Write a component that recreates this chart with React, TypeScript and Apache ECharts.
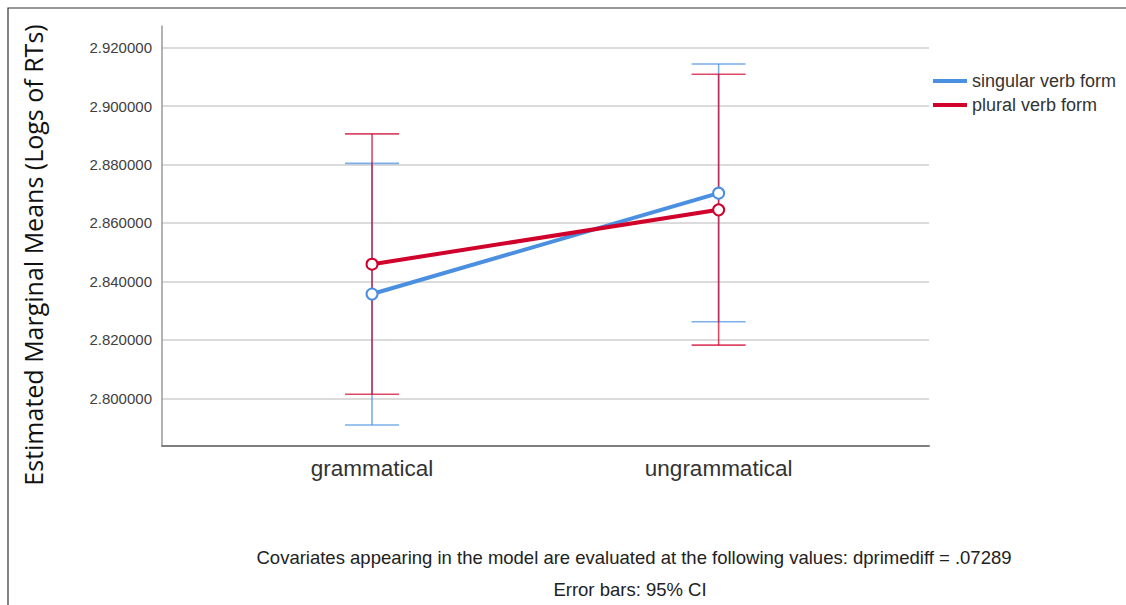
import React, { useEffect, useRef } from "react";
import * as echarts from "echarts";

const categories = ["grammatical", "ungrammatical"];
const seriesNames = ["singular verb form", "plural verb form"];
const singularMeans = [2.8357, 2.8702];
const singularLower = [2.7909, 2.8262];
const singularUpper = [2.8804, 2.9144];
const pluralMeans = [2.8459, 2.8645];
const pluralLower = [2.8014, 2.8182];
const pluralUpper = [2.8905, 2.9109];
const yTicks = [2.8, 2.82, 2.84, 2.86, 2.88, 2.9, 2.92];
const yTitle = "Estimated Marginal Means (Logs of RTs)";
const footer1 = "Covariates appearing in the model are evaluated at the following values: dprimediff = .07289";
const footer2 = "Error bars: 95% CI";

const BLUE = "#4a8fe0";
const RED = "#d0022c";

export default function App() {
  const ref = useRef<HTMLDivElement>(null);
  useEffect(() => {
    if (!ref.current) return;
    const chart = echarts.init(ref.current, null, { renderer: "svg" });
    const xPos = categories.map((_, i) => i + 1);
    const errSeries = (name: string, color: string, lo: number[], hi: number[]) => ({
      name,
      type: "custom",
      z: 2,
      data: xPos.map((x, i) => [x, lo[i], hi[i]]),
      renderItem: (params: any, api: any) => {
        const x = api.value(0);
        const pLo = api.coord([x, api.value(1)]);
        const pHi = api.coord([x, api.value(2)]);
        const hw = 27;
        const style = { stroke: color, lineWidth: 1.6, opacity: 0.72 };
        return {
          type: "group",
          children: [
            { type: "line", shape: { x1: pLo[0], y1: pLo[1], x2: pHi[0], y2: pHi[1] }, style },
            { type: "line", shape: { x1: pLo[0] - hw, y1: pLo[1], x2: pLo[0] + hw, y2: pLo[1] }, style },
            { type: "line", shape: { x1: pHi[0] - hw, y1: pHi[1], x2: pHi[0] + hw, y2: pHi[1] }, style },
          ],
        };
      },
    });
    const meanSeries = (name: string, color: string, means: number[]) => ({
      name,
      type: "line",
      z: 3,
      data: xPos.map((x, i) => [x, means[i]]),
      symbol: "emptyCircle",
      symbolSize: 11,
      lineStyle: { color, width: 4 },
      itemStyle: { color, borderWidth: 1.5 },
    });
    chart.setOption({
      animation: false,
      grid: { left: 162, right: 197, top: 26, bottom: 159 },
      legend: {
        orient: "vertical",
        left: 933,
        top: 72,
        padding: 0,
        itemWidth: 34,
        itemHeight: 4,
        itemGap: 6,
        icon: "rect",
        textStyle: { fontSize: 18, color: "#333", fontFamily: "Liberation Sans", lineHeight: 18 },
        data: [
          { name: seriesNames[0], itemStyle: { color: BLUE, borderWidth: 0 } },
          { name: seriesNames[1], itemStyle: { color: RED, borderWidth: 0 } },
        ],
      },
      xAxis: {
        type: "value",
        min: 0.394,
        max: 2.607,
        axisLine: { show: true, lineStyle: { color: "#7f7f7f", width: 2 } },
        axisTick: { show: false },
        splitLine: { show: false },
        axisLabel: {
          customValues: xPos,
          formatter: (v: number) => categories[Math.round(v) - 1] ?? "",
          fontSize: 22.5,
          color: "#333",
          fontFamily: "Liberation Sans",
          margin: 11,
        },
      },
      yAxis: {
        type: "value",
        min: 2.7837,
        max: 2.9274,
        axisLine: { show: true, lineStyle: { color: "#9a9a9a", width: 1.5 } },
        axisTick: { show: false, customValues: yTicks },
        axisLabel: {
          customValues: yTicks,
          formatter: (v: number) => v.toFixed(6),
          fontSize: 15,
          color: "#404040",
          fontFamily: "Liberation Sans",
          margin: 10,
        },
        splitLine: { show: true, lineStyle: { color: "#cfcfcf", width: 1.5 } },
      },
      graphic: [
        {
          type: "rect",
          shape: { x: 8, y: 8, width: 1200, height: 700 },
          style: { fill: "none", stroke: "#333", lineWidth: 1.2 },
          silent: true,
        },
        {
          type: "text",
          x: 33,
          y: 255,
          rotation: Math.PI / 2,
          style: {
            text: yTitle,
            font: '25px "Open Sans"',
            fill: "#111",
            textAlign: "center",
            textVerticalAlign: "middle",
          },
        },
        {
          type: "text",
          x: 634,
          y: 557,
          style: {
            text: footer1,
            font: '18.5px "Liberation Sans"',
            fill: "#222",
            textAlign: "center",
            textVerticalAlign: "middle",
          },
        },
        {
          type: "text",
          x: 630,
          y: 589,
          style: {
            text: footer2,
            font: '18.5px "Liberation Sans"',
            fill: "#222",
            textAlign: "center",
            textVerticalAlign: "middle",
          },
        },
      ],
      series: [
        errSeries("singular CI", BLUE, singularLower, singularUpper),
        errSeries("plural CI", RED, pluralLower, pluralUpper),
        meanSeries(seriesNames[0], BLUE, singularMeans),
        meanSeries(seriesNames[1], RED, pluralMeans),
      ],
    });
    return () => chart.dispose();
  }, []);
  return (
    <div
      ref={ref}
      style={{ position: "fixed", left: 0, top: 0, width: 1126, height: 605, background: "#fff" }}
    />
  );
}
